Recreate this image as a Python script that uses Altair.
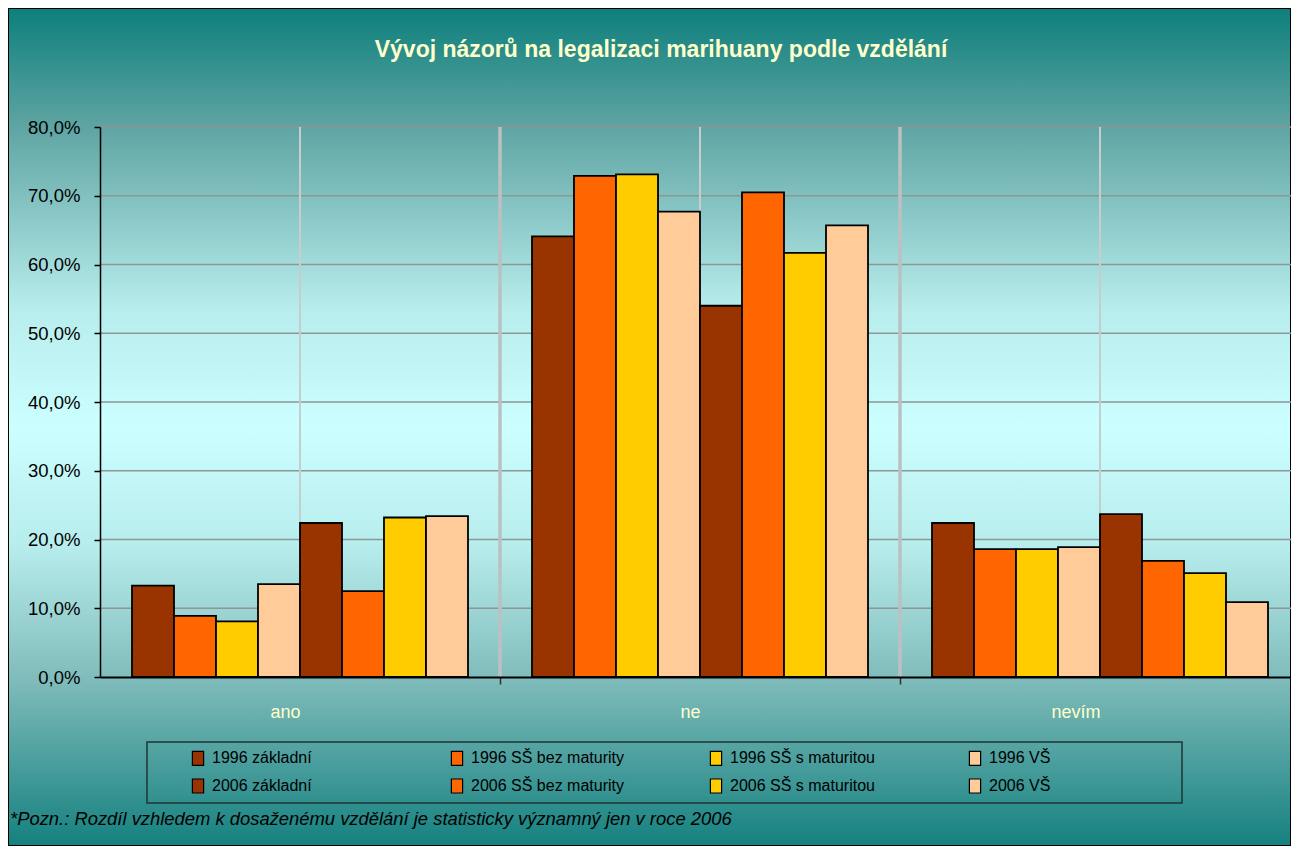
import altair as alt
import pandas as pd

# ---------------- data ----------------
categories = ["ano", "ne", "nevím"]
series = [
    "1996 základní", "1996 SŠ bez maturity", "1996 SŠ s maturitou", "1996 VŠ",
    "2006 základní", "2006 SŠ bez maturity", "2006 SŠ s maturitou", "2006 VŠ",
]
values_ano = [13.3, 8.9, 8.1, 13.5, 22.4, 12.5, 23.2, 23.4]
values_ne = [64.1, 72.9, 73.1, 67.7, 54.0, 70.5, 61.7, 65.7]
values_nevim = [22.4, 18.6, 18.6, 18.9, 23.7, 16.9, 15.1, 10.9]
colors = ["#993300", "#ff6600", "#ffcc00", "#ffcc99",
          "#993300", "#ff6600", "#ffcc00", "#ffcc99"]
y_ticks = [0, 10, 20, 30, 40, 50, 60, 70, 80]
grid_vals = [10, 20, 30, 40, 50, 60, 70, 80]
title_text = "Vývoj názorů na legalizaci marihuany podle vzdělání"
note_text = "*Pozn.: Rozdíl vzhledem k dosaženému vzdělání je statisticky významný jen v roce 2006"

rows = []
for cat, vals in zip(categories, [values_ano, values_ne, values_nevim]):
    for s, v in zip(series, vals):
        rows.append({"kategorie": cat, "skupina": s, "hodnota": v})
df = pd.DataFrame(rows)

# legend fills column by column: interleave 1996 / 2006 so rows read 1996 then 2006
legend_order = []
legend_colors = []
for i in range(4):
    for j in (i, i + 4):
        legend_order.append(series[j])
        legend_colors.append(colors[j])

FONT = "Liberation Sans"
W, H = 1191, 550
PAD_L, PAD_T, PAD_B = 92, 119, 169

x_scale = alt.Scale(domain=categories, range=[0, 1200], paddingInner=0.16, paddingOuter=0.08)
y_scale = alt.Scale(domain=[0, 80], nice=False)

# background gradient (decorative)
bg = alt.Chart(pd.DataFrame({"a": [0]})).mark_rect(
    color=alt.LinearGradient(
        gradient="linear",
        stops=[
            alt.GradientStop(color="#0d7f7c", offset=0),
            alt.GradientStop(color="#5ea4a2", offset=0.14),
            alt.GradientStop(color="#b8eded", offset=0.36),
            alt.GradientStop(color="#ccffff", offset=0.5),
            alt.GradientStop(color="#b8eded", offset=0.64),
            alt.GradientStop(color="#80bcbb", offset=0.8),
            alt.GradientStop(color="#14817f", offset=1),
        ],
        x1=0, x2=0, y1=0, y2=1,
    ),
    stroke="black",
    strokeWidth=2,
).encode(
    x=alt.value(-PAD_L), x2=alt.value(W),
    y=alt.value(-PAD_T), y2=alt.value(H + PAD_B),
)

hgrid = alt.Chart(pd.DataFrame({"v": grid_vals})).mark_rule(
    color="#8e9696", strokeWidth=1.6
).encode(y=alt.Y("v:Q", scale=y_scale))

vcenter = alt.Chart(pd.DataFrame({"kategorie": categories})).mark_rule(
    color="#c8cccc", strokeWidth=2
).encode(x=alt.X("kategorie:N", scale=x_scale, sort=categories))

vsep = alt.Chart(pd.DataFrame({"kategorie": categories[:2]})).mark_rule(
    color="#bcc0c0", strokeWidth=3.5, xOffset=200
).encode(x=alt.X("kategorie:N", scale=x_scale, sort=categories))

legend_path = "M-0.8,-1H0.8V1H-0.8Z"

bars = alt.Chart(df).mark_bar(stroke="black", strokeWidth=1.8).encode(
    x=alt.X(
        "kategorie:N", scale=x_scale, sort=categories, title=None,
        axis=alt.Axis(
            labelAngle=0, labelColor="#ffffcc", labelFont=FONT, labelFontSize=18,
            labelBaseline="alphabetic",
            labelPadding=33, tickSize=7, tickColor="#333333", tickWidth=1.5,
            tickOffset=200, labelOffset=-200, domainColor="black", domainWidth=2,
            grid=False, zindex=1,
        ),
    ),
    xOffset=alt.XOffset("skupina:N", sort=series,
                        scale=alt.Scale(domain=series, paddingInner=0, paddingOuter=0)),
    y=alt.Y(
        "hodnota:Q", scale=y_scale, title=None,
        axis=alt.Axis(
            values=y_ticks, grid=False, zindex=1,
            labelExpr="replace(format(datum.value, '.1f'), '.', ',') + '%'",
            labelFont=FONT, labelFontSize=18.5, labelColor="black", labelPadding=14,
            tickSize=6, tickColor="black", tickWidth=1.5,
            domainColor="black", domainWidth=1.5,
        ),
    ),
    color=alt.Color(
        "skupina:N",
        scale=alt.Scale(domain=legend_order, range=legend_colors),
        legend=alt.Legend(
            orient="none", legendX=90, legendY=623, columns=4, title=None,
            symbolType=legend_path, symbolSize=196, symbolStrokeColor="black",
            symbolStrokeWidth=1.2, labelFont=FONT, labelFontSize=16, labelColor="black",
            rowPadding=8, columnPadding=84, gridAlign="all", labelOffset=6, padding=0,
            labelLimit=300,
        ),
    ),
)

legend_frame = alt.Chart(pd.DataFrame({"a": [0]})).mark_rect(
    fill=None, stroke="#1e3434", strokeWidth=1.5
).encode(
    x=alt.value(47), x2=alt.value(1082), y=alt.value(615), y2=alt.value(676)
)

title = alt.Chart(pd.DataFrame({"t": [title_text]})).mark_text(
    font=FONT, fontSize=23, fontWeight="bold", color="#ffffcc",
    align="center", baseline="alphabetic",
).encode(x=alt.value(561), y=alt.value(-70), text="t:N")

note = alt.Chart(pd.DataFrame({"t": [note_text]})).mark_text(
    font=FONT, fontSize=18.4, fontStyle="italic", color="black",
    align="left", baseline="alphabetic",
).encode(x=alt.value(-90), y=alt.value(698), text="t:N")

chart = alt.layer(bg, hgrid, vcenter, vsep, bars, legend_frame, title, note).properties(
    width=W, height=H,
    autosize=alt.AutoSizeParams(type="none"),
    padding={"left": PAD_L, "top": PAD_T, "right": 0, "bottom": PAD_B},
    background="white",
).configure_view(stroke=None)

chart.save("out.html", embed_options={"renderer": "svg", "actions": False})
